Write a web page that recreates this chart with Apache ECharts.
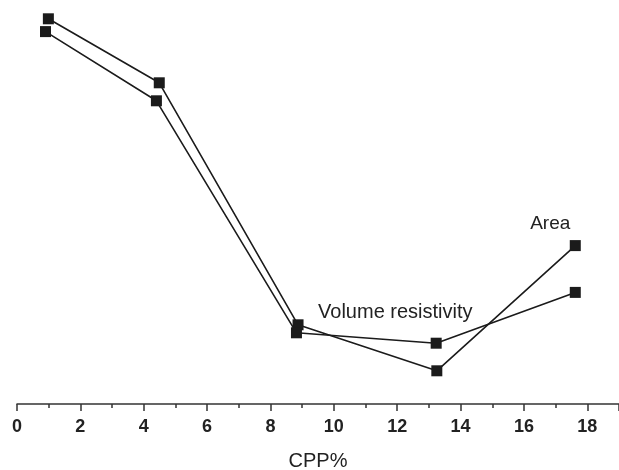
<!DOCTYPE html>
<html>
<head>
<meta charset="utf-8">
<script src="https://cdn.jsdelivr.net/npm/echarts@6/dist/echarts.min.js"></script>
<style>
html,body{margin:0;padding:0;background:#fff;}
#c{width:619px;height:470px;}
</style>
</head>
<body>
<div id="c"></div>
<script>
// Data (y in arbitrary relative units; the y axis is not drawn)
const areaX = [0.99, 4.49, 8.87, 13.25, 17.62];
const areaY = [96.3, 80.3, 19.8, 8.3, 39.6];
const volX  = [0.90, 4.40, 8.82, 13.23, 17.62];
const volY  = [93.1, 75.8, 17.8, 15.2, 27.9];
const xTicks = [0, 2, 4, 6, 8, 10, 12, 14, 16, 18];
const seriesNames = ['Area', 'Volume resistivity'];
const xName = 'CPP%';
// annotation anchors (data coordinates)
const areaLabelAt = [16.83, 45.0];
const volLabelAt  = [11.94, 23.0];

const chart = echarts.init(document.getElementById('c'), null, {renderer: 'canvas'});
function pairs(xs, ys) { return xs.map((x, i) => [x, ys[i]]); }
const lineStyle = {color: '#1b1b1b', width: 1.6};
const itemStyle = {color: '#1b1b1b'};

chart.setOption({
  animation: false,
  backgroundColor: '#ffffff',
  grid: {left: 17, right: 0, top: 4, bottom: 66, containLabel: false, outerBoundsMode: 'none'},
  xAxis: {
    type: 'value', min: 0, max: 19, interval: 2,
    name: xName, nameLocation: 'middle', nameGap: 47,
    nameTextStyle: {fontFamily: 'Liberation Sans, Arial', fontSize: 20, color: '#222'},
    axisLine: {show: true, lineStyle: {color: '#333', width: 1.5}},
    axisTick: {show: true, length: 7, lineStyle: {color: '#333', width: 1.5}},
    minorTick: {show: true, splitNumber: 2, length: 4, lineStyle: {color: '#333', width: 1.5}},
    splitLine: {show: false},
    axisLabel: {fontFamily: 'Liberation Sans, Arial', fontSize: 18, fontWeight: 'bold', color: '#222', margin: 14,
      formatter: v => xTicks.includes(v) ? String(v) : ''}
  },
  yAxis: {type: 'value', min: 0, max: 100, show: false, splitLine: {show: false}},
  series: [
    {name: seriesNames[0], type: 'line', data: pairs(areaX, areaY), symbol: 'rect', symbolSize: 11, lineStyle, itemStyle, z: 3},
    {name: seriesNames[1], type: 'line', data: pairs(volX, volY), symbol: 'rect', symbolSize: 11, lineStyle, itemStyle, z: 3}
  ]
});

const pA = chart.convertToPixel({gridIndex: 0}, areaLabelAt);
const pV = chart.convertToPixel({gridIndex: 0}, volLabelAt);
chart.setOption({
  graphic: [
    {type: 'text', x: pA[0], y: pA[1], style: {text: seriesNames[0], fontFamily: 'Liberation Sans, Arial', fontSize: 19, fill: '#222', textAlign: 'center', textVerticalAlign: 'middle'}},
    {type: 'text', x: pV[0], y: pV[1], style: {text: seriesNames[1], fontFamily: 'Liberation Sans, Arial', fontSize: 20, fill: '#222', textAlign: 'center', textVerticalAlign: 'middle'}}
  ]
});
</script>
</body>
</html>
